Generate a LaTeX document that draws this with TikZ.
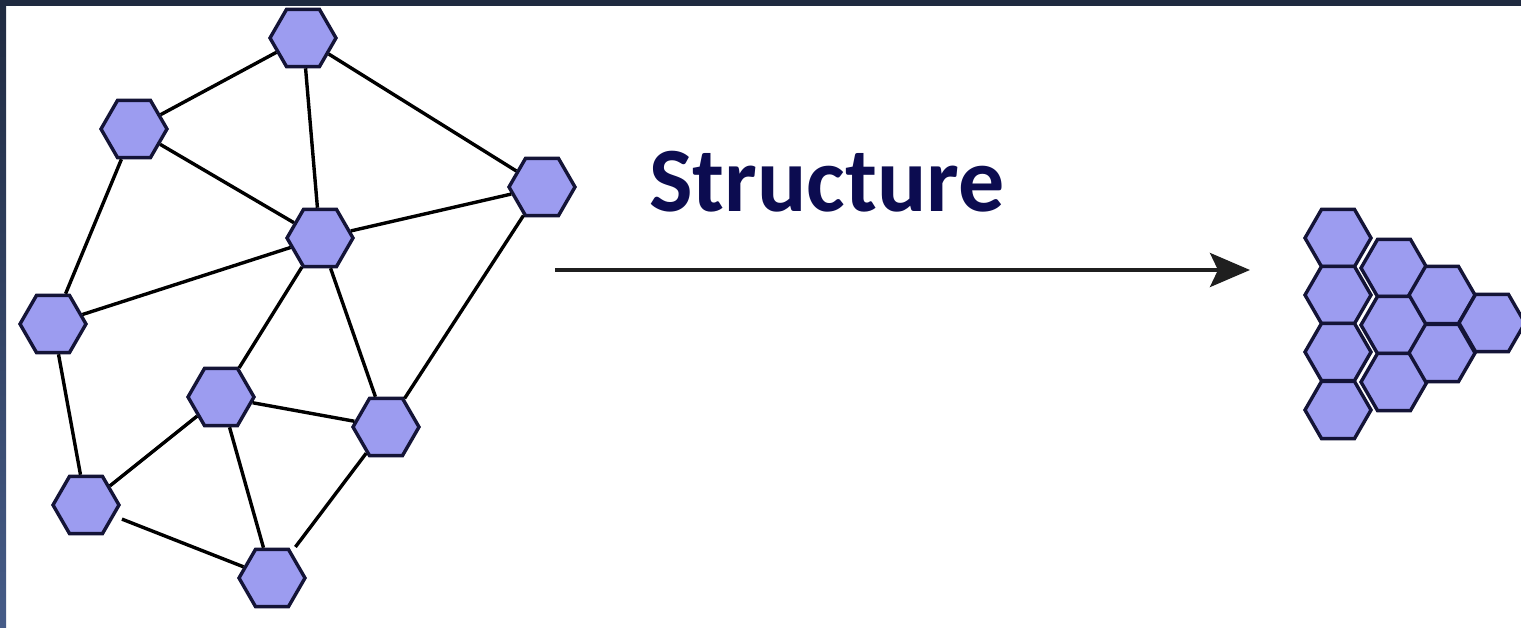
\documentclass[tikz,border=0pt]{standalone}
\usepackage{fontspec}
\setmainfont{Carlito}
\usetikzlibrary{shapes.geometric,arrows.meta}
\definecolor{hexfill}{RGB}{156,156,240}
\definecolor{hexline}{RGB}{20,20,55}
\definecolor{titlecol}{RGB}{12,12,80}
\definecolor{bandtop}{RGB}{31,42,64}
\definecolor{bandbot}{RGB}{70,92,136}
\tikzset{
  hexnode/.style={regular polygon, regular polygon sides=6, minimum size=66pt,
    inner sep=0pt, fill=hexfill, draw=hexline, line width=3.4pt},
  edge/.style={line width=3.4pt, black},
}
\begin{document}
\begin{tikzpicture}[x=1pt,y=-1pt]
\useasboundingbox (0,0) rectangle (1521,628);
\fill[white] (0,0) rectangle (1521,628);
\shade[top color=bandtop, bottom color=bandbot] (0,0) rectangle (6,628);
\fill[bandtop] (0,0) rectangle (1521,6);

\coordinate (pA) at (303,38);
\coordinate (pB) at (134,129);
\coordinate (pC) at (542,187);
\coordinate (pD) at (320,238);
\coordinate (pE) at (53,324);
\coordinate (pF) at (221,397);
\coordinate (pG) at (386,427);
\coordinate (pH) at (86,505);
\coordinate (pI) at (272,578);

\node[hexnode] (A) at (pA) {};
\node[hexnode] (B) at (pB) {};
\node[hexnode] (C) at (pC) {};
\node[hexnode] (D) at (pD) {};
\node[hexnode] (E) at (pE) {};
\node[hexnode] (F) at (pF) {};
\node[hexnode] (G) at (pG) {};
\node[hexnode] (H) at (pH) {};
\node[hexnode] (I) at (pI) {};

\draw[edge] (A) -- (B);
\draw[edge] (A) -- (D);
\draw[edge] (A) -- (C);
\draw[edge] (B) -- (D);
\draw[edge] (B) -- (E);
\draw[edge] (C) -- (D);
\draw[edge] (C) -- (G);
\draw[edge] (D) -- (E);
\draw[edge] (D) -- (F);
\draw[edge] (D) -- (G);
\draw[edge] (E) -- (H);
\draw[edge] (F) -- (G);
\draw[edge] (F) -- (H);
\draw[edge] (F) -- (I);
\draw[edge, shorten <=8pt] (H) -- (I);
\draw[edge, shorten >=6pt] (G) -- (I);

\node[anchor=base west, inner sep=0pt, text=titlecol, font=\fontsize{92}{100}\selectfont\bfseries] (title) at (649,212) {Structure};
\coordinate (arrS) at (555,270);
\coordinate (arrE) at (1250,270);
\draw[line width=3.6pt, color=black!88, -{Stealth[length=40pt, width=34pt, inset=8pt]}] (arrS) -- (arrE);

\node[hexnode] (k1) at (1338,238) {};
\node[hexnode] (k2) at (1338,295) {};
\node[hexnode] (k3) at (1338,352) {};
\node[hexnode] (k4) at (1338,410) {};
\node[hexnode] (k5) at (1394,268) {};
\node[hexnode] (k6) at (1394,325) {};
\node[hexnode] (k7) at (1394,382) {};
\node[hexnode] (k8) at (1442,295) {};
\node[hexnode] (k9) at (1442,353) {};
\node[hexnode] (k10) at (1492,323) {};
\end{tikzpicture}
\end{document}
